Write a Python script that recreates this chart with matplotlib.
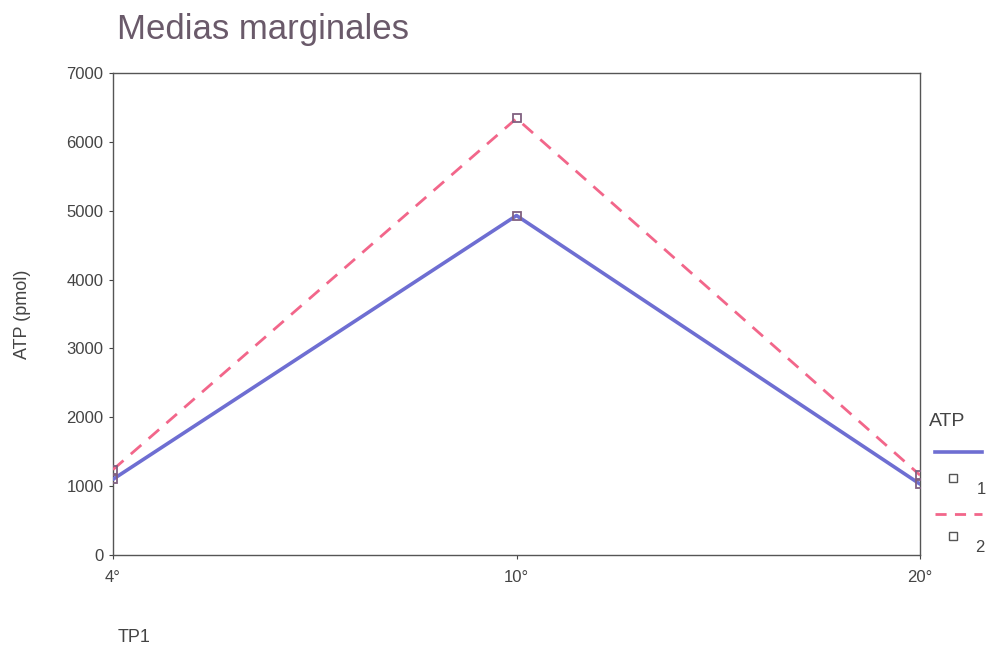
import matplotlib
matplotlib.use("Agg")
import matplotlib.pyplot as plt
from matplotlib.lines import Line2D

plt.rcParams['font.family'] = ['Liberation Sans', 'DejaVu Sans']

# datos
categorias = ['4°', '10°', '20°']
atp_1 = [1100, 4930, 1030]
atp_2 = [1240, 6340, 1160]
yticks = [0, 1000, 2000, 3000, 4000, 5000, 6000, 7000]

col_1 = '#6e6ed2'
col_2 = '#f2668a'
col_marca = '#806080'
col_texto = '#444444'

fig = plt.figure(figsize=(9.88, 6.55), dpi=100)
ax = fig.add_axes([113/988, 1 - 555/655, (920 - 113)/988, (555 - 73)/655])

x = list(range(len(categorias)))
ax.plot(x, atp_1, color=col_1, lw=2.6, solid_capstyle='round', zorder=3)
ax.plot(x, atp_2, color=col_2, lw=2.0, ls=(0, (5, 3.5)), zorder=3)
ax.plot(x, atp_1, ls='none', marker='s', ms=6, mfc='none', mec=col_marca, mew=1.3, zorder=4)
ax.plot(x, atp_2, ls='none', marker='s', ms=6, mfc='none', mec=col_marca, mew=1.3, zorder=4)

ax.set_xlim(0, 2)
ax.set_ylim(0, 7000)
ax.set_xticks(x)
ax.set_xticklabels(categorias)
ax.set_yticks(yticks)
ax.tick_params(axis='both', labelsize=12, colors=col_texto, length=3, width=0.8)
ax.tick_params(axis='x', pad=8)
ax.tick_params(axis='y', pad=4)

for s in ax.spines.values():
    s.set_color('#555555')
    s.set_linewidth(1.0)

ax.set_ylabel('ATP (pmol)', fontsize=13, color=col_texto)
ax.yaxis.set_label_coords(-(113 - 31)/807, 0.5)
fig.text(118/988, 1 - 637/655, 'TP1', fontsize=13, color=col_texto, va='center')
fig.text(117/988, 1 - 30/655, 'Medias marginales', fontsize=25, color='#6a5a6a', va='center')

# leyenda estilo SPSS
fig.text(929/988, 1 - 421/655, 'ATP', fontsize=14, color=col_texto, va='center')
fig.add_artist(Line2D([935/988, 982/988], [1 - 452/655, 1 - 452/655], color=col_1, lw=2.6))
fig.add_artist(Line2D([953/988], [1 - 478/655], ls='none', marker='s', ms=6, mfc='none',
                      mec='#555555', mew=1.0))
fig.text(977/988, 1 - 490/655, '1', fontsize=12, color=col_texto, va='center')
fig.add_artist(Line2D([935/988, 982/988], [1 - 514/655, 1 - 514/655], color=col_2, lw=2.0,
                      ls=(0, (4, 3))))
fig.add_artist(Line2D([953/988], [1 - 536/655], ls='none', marker='s', ms=6, mfc='none',
                      mec='#555555', mew=1.0))
fig.text(975/988, 1 - 548/655, '2', fontsize=12, color=col_texto, va='center')

fig.savefig('out.png', dpi=100)
